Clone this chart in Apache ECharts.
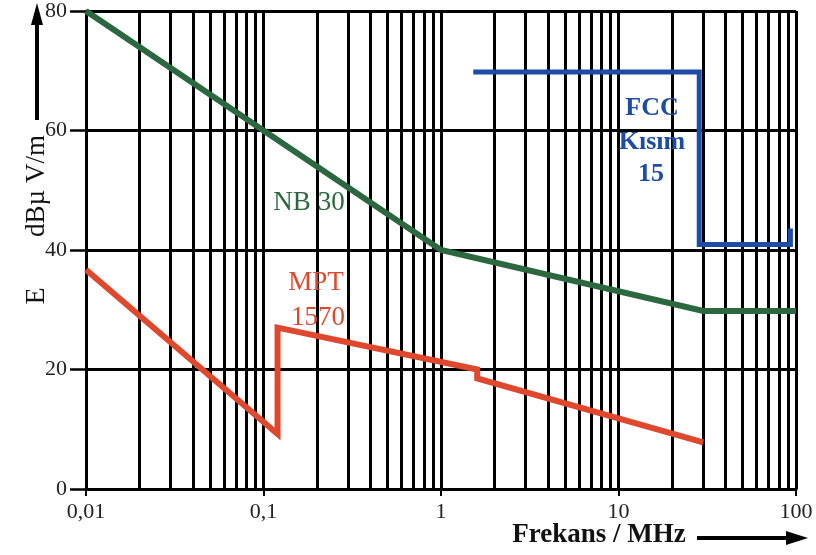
<!DOCTYPE html>
<html>
<head>
<meta charset="utf-8">
<script src="https://cdn.jsdelivr.net/npm/echarts@6/dist/echarts.min.js"></script>
<style>
  html, body { margin: 0; padding: 0; background: #fff; }
  #chart { width: 816px; height: 555px; }
</style>
</head>
<body>
<div id="chart"></div>
<script>
// Frequency decades shown on the log x axis and their printed labels
const decadeValues = [0.01, 0.1, 1, 10, 100];
const decadeLabels = ['0,01', '0,1', '1', '10', '100'];
// Intermediate grid lines (2..9 within each decade)
const minorGridValues = [
  0.02, 0.03, 0.04, 0.05, 0.06, 0.07, 0.08, 0.09,
  0.2, 0.3, 0.4, 0.5, 0.6, 0.7, 0.8, 0.9,
  2, 3, 4, 5, 6, 7, 8, 9,
  20, 30, 40, 50, 60, 70, 80, 90
];
// Field strength ticks
const yTicks = [0, 20, 40, 60, 80];

// Limit curves: [frequency MHz, dBµV/m]
const nb30 = [[0.01, 80], [1, 40], [30, 29.8], [100, 29.8]];
const mpt1570 = [[0.01, 36.7], [0.12, 9.2], [0.12, 27], [1.6, 20], [1.6, 18.5], [30, 7.8]];
const fcc15 = [[1.52, 69.8], [28.5, 69.8], [28.5, 40.9], [93, 40.9], [93, 43.6]];

const serif = '"Liberation Serif", "DejaVu Serif", serif';
const GREEN = '#2b6840';
const RED = '#e0482d';
const BLUE = '#1d4ca6';

const chart = echarts.init(document.getElementById('chart'), null, { renderer: 'canvas' });

function limitSeries(name, data, color, width) {
  return {
    name: name,
    type: 'line',
    data: data,
    symbol: 'none',
    silent: true,
    z: 5,
    lineStyle: { color: color, width: width, cap: 'butt', join: 'miter' }
  };
}

function label(text, cx, cy, size, color, bold) {
  return {
    type: 'text', x: cx, y: cy, z: 10,
    style: {
      text: text,
      font: (bold ? 'bold ' : '') + size + 'px ' + serif,
      fill: color, align: 'center', verticalAlign: 'middle'
    }
  };
}

chart.setOption({
  animation: false,
  backgroundColor: '#fff',
  grid: { left: 86, right: 20, top: 10, bottom: 66 },
  xAxis: {
    type: 'log',
    logBase: 10,
    min: 0.01,
    max: 100,
    axisLine: { show: true, lineStyle: { color: '#000', width: 3 } },
    axisTick: { show: true, length: 7, lineStyle: { color: '#000', width: 2 } },
    axisLabel: {
      margin: 12,
      fontFamily: serif,
      fontSize: 22,
      color: '#222',
      formatter: function (v) {
        const i = Math.round(Math.log10(v)) + 2;
        return decadeLabels[i] !== undefined ? decadeLabels[i] : '';
      }
    },
    splitLine: { show: true, lineStyle: { color: '#000', width: 3 } }
  },
  yAxis: {
    type: 'value',
    min: yTicks[0],
    max: yTicks[yTicks.length - 1],
    interval: 20,
    axisLine: { show: true, lineStyle: { color: '#000', width: 3 } },
    axisTick: { show: true, inside: false, length: 16, lineStyle: { color: '#000', width: 2.5 } },
    axisLabel: {
      margin: 19,
      fontFamily: serif,
      fontSize: 22,
      color: '#222'
    },
    splitLine: { show: true, lineStyle: { color: '#000', width: 3 } }
  },
  series: [
    {
      // carries the intermediate vertical grid lines
      type: 'line',
      data: [],
      silent: true,
      z: 1,
      markLine: {
        silent: true,
        symbol: ['none', 'none'],
        label: { show: false },
        lineStyle: { color: '#000', width: 3, type: 'solid' },
        data: minorGridValues.map(v => ({ xAxis: v }))
      }
    },
    limitSeries('NB 30', nb30, GREEN, 6),
    limitSeries('MPT 1570', mpt1570, RED, 6),
    limitSeries('FCC Kısım 15', fcc15, BLUE, 5)
  ],
  graphic: [
    // curve labels
    label('NB 30', 309, 203, 27, GREEN, false),
    label('MPT', 316, 283, 27, RED, false),
    label('1570', 318, 318, 27, RED, false),
    label('FCC', 652, 108, 26, BLUE, true),
    label('Kısım', 652, 142, 26, BLUE, true),
    label('15', 651, 174, 26, BLUE, true),
    // y axis title
    { type: 'text', x: 37, y: 296, rotation: Math.PI / 2, z: 10,
      style: { text: 'E', font: '28px ' + serif, fill: '#111', align: 'center', verticalAlign: 'middle' } },
    { type: 'text', x: 37, y: 186, rotation: Math.PI / 2, z: 10,
      style: { text: 'dBµ V/m', font: '27px ' + serif, fill: '#111', align: 'center', verticalAlign: 'middle' } },
    { type: 'line', z: 10, shape: { x1: 37, y1: 120, x2: 37, y2: 22 },
      style: { stroke: '#000', lineWidth: 4 } },
    { type: 'polygon', z: 10, shape: { points: [[37, 3], [31, 25], [43, 25]] },
      style: { fill: '#000' } },
    // x axis title
    { type: 'text', x: 599, y: 535, z: 10,
      style: { text: 'Frekans / MHz', font: 'bold 27px ' + serif, fill: '#111', align: 'center', verticalAlign: 'middle' } },
    { type: 'line', z: 10, shape: { x1: 697, y1: 538, x2: 790, y2: 538 },
      style: { stroke: '#000', lineWidth: 4 } },
    { type: 'polygon', z: 10, shape: { points: [[808, 538], [786, 531], [786, 545]] },
      style: { fill: '#000' } }
  ]
});
</script>
</body>
</html>
